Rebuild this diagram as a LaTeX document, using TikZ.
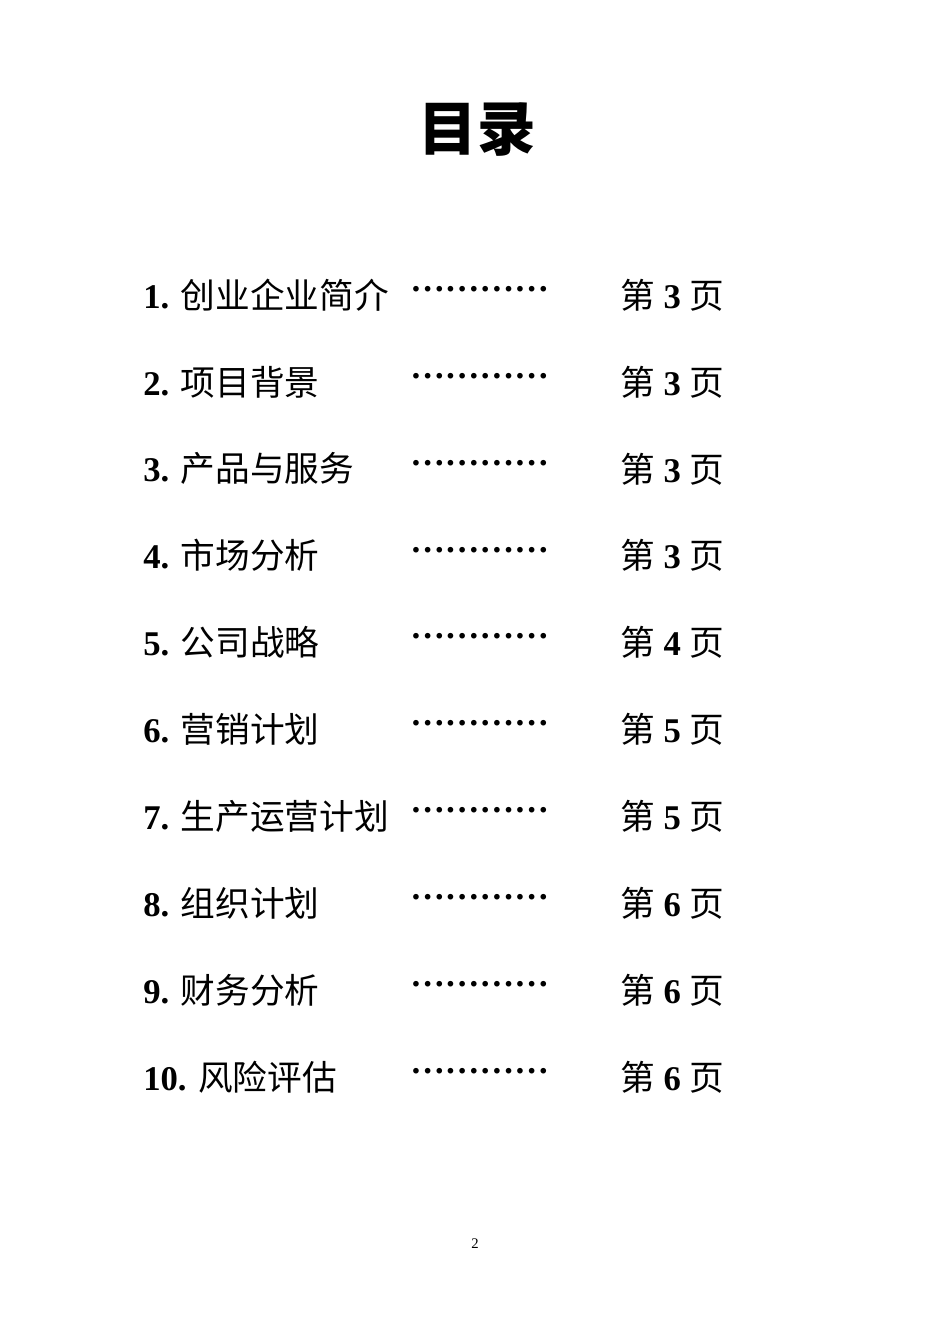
\documentclass[tikz,border=0pt]{standalone}
\usepackage{fontspec}
\setmainfont{Liberation Serif}
\newfontfamily\cjk{Noto Sans CJK SC}
\begin{document}
\begin{tikzpicture}[x=0.75pt,y=-0.75pt,
  entry/.style={anchor=west,inner sep=0pt,font=\fontsize{26}{30}\selectfont},
  dotsn/.style={anchor=west,inner sep=0pt,font=\fontsize{26}{30}\selectfont\bfseries}]
\useasboundingbox (0,0) rectangle (950,1344);
\node[inner sep=0pt,font=\fontsize{44}{50}\selectfont\cjk\bfseries] (title) at (477,130) {目录};
\foreach \n/\t/\p [count=\i from 0] in {1./创业企业简介/3,2./项目背景/3,3./产品与服务/3,4./市场分析/3,5./公司战略/4,6./营销计划/5,7./生产运营计划/5,8./组织计划/6,9./财务分析/6,10./风险评估/6}{
  \pgfmathsetmacro{\yy}{295+86.9*\i}
  \node[entry] (e\i) at (143,\yy) {\textbf{\n} {\cjk\t}};
  \node[dotsn] (d\i) at (410,\yy-6) {…………};
  \node[entry] (p\i) at (620,\yy) {{\cjk 第} \textbf{\p} {\cjk 页}};
}
\node[inner sep=0pt,font=\fontsize{11}{13}\selectfont] (pg) at (475,1244) {2};
\end{tikzpicture}
\end{document}
